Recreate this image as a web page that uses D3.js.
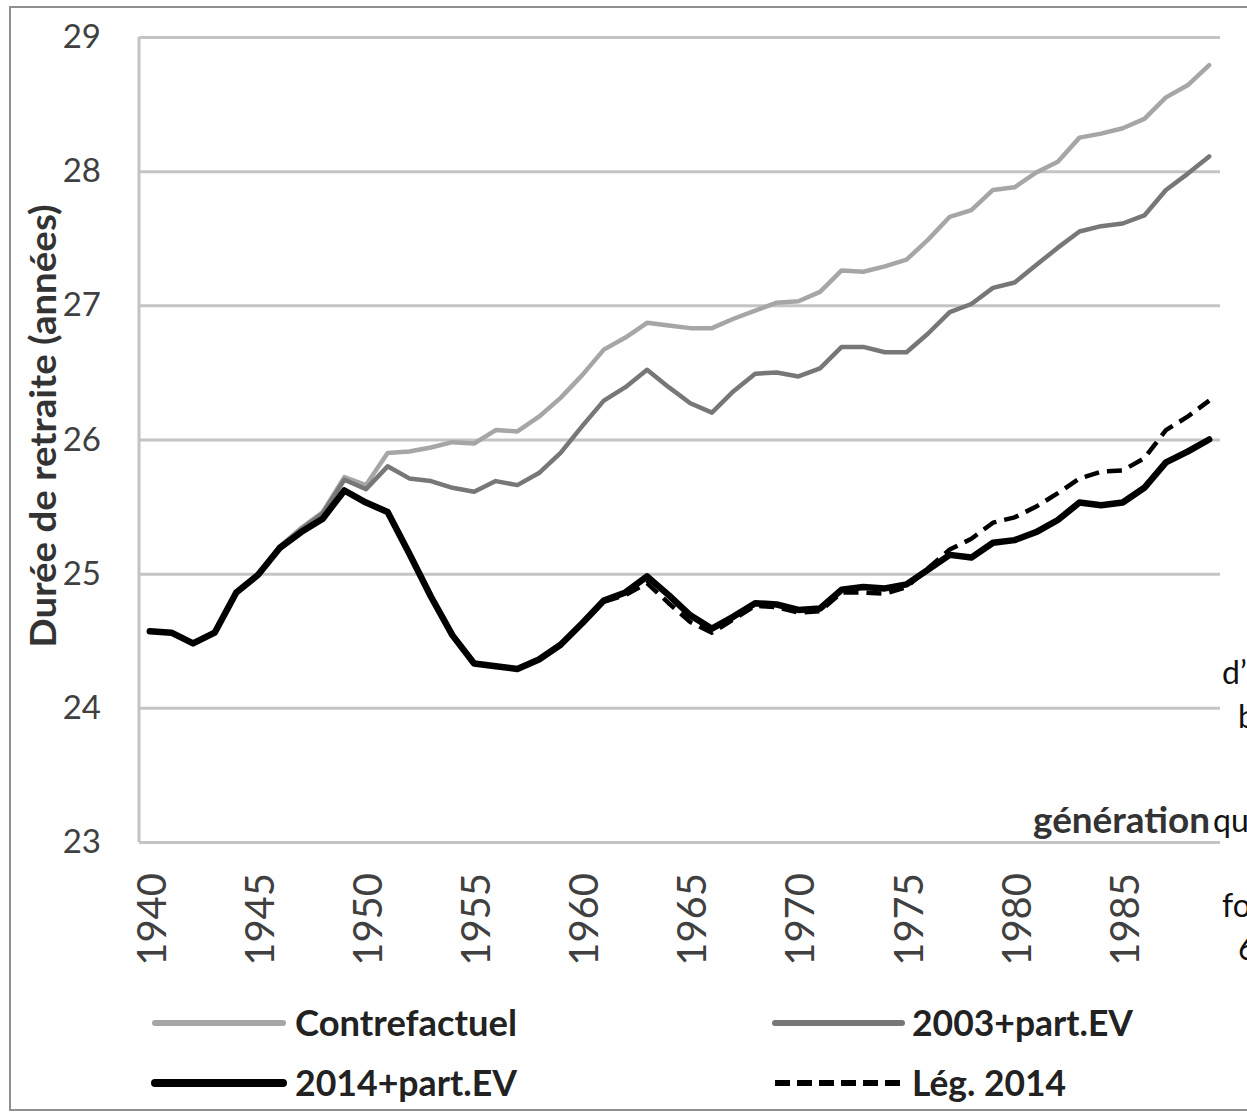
<!DOCTYPE html>
<html>
<head>
<meta charset="utf-8">
<script src="https://cdn.jsdelivr.net/npm/d3@7"></script>
<style>
  html, body { margin: 0; padding: 0; background: #fff; }
  svg { display: block; }
  text { font-family: Lato, "Open Sans", "DejaVu Sans", sans-serif; }
</style>
</head>
<body>
<svg id="chart" width="1247" height="1113"></svg>
<script>
const years = [1940,1941,1942,1943,1944,1945,1946,1947,1948,1949,
               1950,1951,1952,1953,1954,1955,1956,1957,1958,1959,
               1960,1961,1962,1963,1964,1965,1966,1967,1968,1969,
               1970,1971,1972,1973,1974,1975,1976,1977,1978,1979,
               1980,1981,1982,1983,1984,1985,1986,1987,1988,1989];
const xTickLabels = [1940,1945,1950,1955,1960,1965,1970,1975,1980,1985];
const yTickLabels = [23,24,25,26,27,28,29];

const contrefactuel = [24.57,24.56,24.48,24.56,24.86,24.99,25.20,25.34,25.46,25.72,
                       25.66,25.90,25.91,25.94,25.98,25.97,26.07,26.06,26.17,26.31,
                       26.48,26.67,26.76,26.87,26.85,26.83,26.83,26.90,26.96,27.02,
                       27.03,27.10,27.26,27.25,27.29,27.34,27.49,27.66,27.71,27.86,
                       27.88,27.99,28.07,28.25,28.28,28.32,28.39,28.55,28.64,28.79];
const part2003 = [24.57,24.56,24.48,24.56,24.86,24.99,25.20,25.33,25.45,25.70,
                  25.63,25.80,25.71,25.69,25.64,25.61,25.69,25.66,25.75,25.90,
                  26.10,26.29,26.39,26.52,26.39,26.27,26.20,26.36,26.49,26.50,
                  26.47,26.53,26.69,26.69,26.65,26.65,26.79,26.95,27.01,27.13,
                  27.17,27.30,27.43,27.55,27.59,27.61,27.67,27.86,27.98,28.11];
const part2014 = [24.57,24.56,24.48,24.56,24.86,24.99,25.19,25.31,25.41,25.62,
                  25.53,25.46,25.15,24.83,24.54,24.33,24.31,24.29,24.36,24.47,
                  24.63,24.80,24.86,24.98,24.84,24.69,24.59,24.68,24.78,24.77,
                  24.73,24.74,24.88,24.90,24.89,24.92,25.03,25.14,25.12,25.23,
                  25.25,25.31,25.40,25.53,25.51,25.53,25.64,25.83,25.91,26.00];
const leg2014 = [24.57,24.56,24.48,24.56,24.86,24.99,25.19,25.31,25.41,25.62,
                 25.53,25.46,25.15,24.83,24.54,24.33,24.31,24.29,24.36,24.47,
                 24.63,24.79,24.84,24.93,24.78,24.64,24.56,24.66,24.76,24.75,
                 24.71,24.72,24.86,24.86,24.85,24.90,25.04,25.18,25.26,25.38,
                 25.42,25.50,25.60,25.71,25.76,25.77,25.86,26.07,26.17,26.29];

const seriesNames = ["Contrefactuel", "2003+part.EV", "2014+part.EV", "Lég. 2014"];
const yTitle = "Durée de retraite (années)";
const xTitle = "génération";
const sideFragments = ["d’", "b", "qu", "fo", "6"];

const svg = d3.select("#chart");
const W = 1247, H = 1113;
const plot = {left: 139, right: 1220, top: 37, bottom: 842};

svg.append("rect").attr("x",0).attr("y",0).attr("width",W).attr("height",H).attr("fill","#fff");
// outer chart border
svg.append("rect").attr("x",10).attr("y",7).attr("width",W).attr("height",1103)
  .attr("fill","none").attr("stroke","#8f8f8f").attr("stroke-width",2);

const x = d3.scaleBand().domain(years).range([plot.left, plot.right]).padding(0);
const y = d3.scaleLinear().domain([23,29]).range([plot.bottom, plot.top]);
const cx = d => x(d) + x.bandwidth()/2;

// Gridlines + y axis labels
const yAxis = d3.axisLeft(y).tickValues(yTickLabels).tickFormat(d3.format("d"))
  .tickSize(-(plot.right - plot.left)).tickPadding(38);
const gy = svg.append("g").attr("transform", `translate(${plot.left},0)`).call(yAxis);
gy.select(".domain").remove();
gy.selectAll(".tick line").attr("stroke","#c4c4c4").attr("stroke-width",3);
gy.selectAll(".tick text").attr("font-size",33).attr("fill","#404040")
  .attr("font-family","Lato, sans-serif");

// vertical axis line
svg.append("line").attr("x1",plot.left).attr("x2",plot.left)
  .attr("y1",y(29)).attr("y2",y(23)).attr("stroke","#c4c4c4").attr("stroke-width",3);

// x axis labels
const xAxis = d3.axisBottom(x).tickValues(xTickLabels).tickSize(0).tickPadding(0);
const gx = svg.append("g").attr("transform", `translate(0,${plot.bottom})`).call(xAxis);
gx.select(".domain").remove();
gx.selectAll(".tick text")
  .attr("font-size",40).attr("fill","#404040").attr("font-family","Lato, sans-serif")
  .attr("text-anchor","end").attr("dy",null).attr("y",0)
  .attr("transform","translate(16,31) rotate(-90)");

// lines
const line = d3.line().x((d,i) => cx(years[i])).y(d => y(d));
const styles = [
  {data: contrefactuel, color: "#a6a6a6", width: 4.5, dash: null},
  {data: part2003, color: "#777777", width: 4.5, dash: null},
  {data: part2014, color: "#000000", width: 6.5, dash: null},
  {data: leg2014, color: "#000000", width: 4.5, dash: "15,8"}
];
styles.forEach(s => {
  svg.append("path").datum(s.data).attr("d", line)
    .attr("fill","none").attr("stroke", s.color).attr("stroke-width", s.width)
    .attr("stroke-linejoin","round").attr("stroke-linecap", s.dash ? "butt" : "round")
    .attr("stroke-dasharray", s.dash);
});

// axis titles
svg.append("text").attr("transform","translate(56,426) rotate(-90)")
  .attr("text-anchor","middle").attr("font-size",36).attr("font-weight","bold")
  .attr("textLength",443).attr("lengthAdjust","spacingAndGlyphs")
  .attr("fill","#333").text(yTitle);
svg.append("text").attr("x",1033).attr("y",833)
  .attr("font-size",36).attr("font-weight","bold")
  .attr("textLength",177).attr("lengthAdjust","spacingAndGlyphs")
  .attr("fill","#333").text(xTitle);

// legend
const legendPos = [
  {x1:155, x2:283, y:1023, tx:295, w:222},
  {x1:775, x2:902, y:1023, tx:912, w:221},
  {x1:155, x2:283, y:1083, tx:295, w:222},
  {x1:775, x2:902, y:1083, tx:912, w:154}
];
const legendWidths = [6, 6, 8, 6];
seriesNames.forEach((name,i) => {
  const p = legendPos[i], s = styles[i];
  svg.append("line").attr("x1",p.x1).attr("x2",p.x2).attr("y1",p.y).attr("y2",p.y)
    .attr("stroke", s.color).attr("stroke-width", legendWidths[i])
    .attr("stroke-linecap", s.dash ? "butt" : "round")
    .attr("stroke-dasharray", s.dash ? "15,7" : null);
  svg.append("text").attr("x",p.tx).attr("y",p.y+13).attr("font-size",36)
    .attr("textLength",p.w).attr("lengthAdjust","spacingAndGlyphs")
    .attr("font-weight","bold").attr("fill","#222").text(name);
});

// fragments of surrounding text cut by the right edge
const fragPos = [[1222,684],[1238,728],[1213,832],[1222,917],[1238,960]];
sideFragments.forEach((t,i) => {
  svg.append("text").attr("x",fragPos[i][0]).attr("y",fragPos[i][1])
    .attr("font-size",32).attr("fill","#111").text(t);
});
</script>
</body>
</html>
